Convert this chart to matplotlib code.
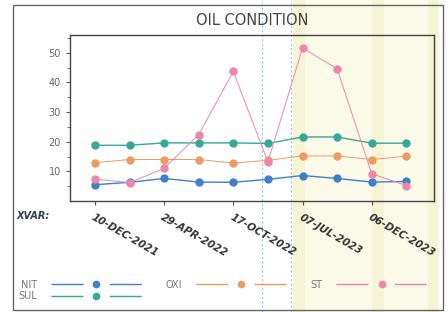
import matplotlib.pyplot as plt
from matplotlib.lines import Line2D
from matplotlib.patches import Rectangle

# sample points (equally spaced on the x axis)
points = list(range(10))
tick_pos = [0, 2, 4, 6, 8]
tick_labels = ['10-DEC-2021', '29-APR-2022', '17-OCT-2022', '07-JUL-2023', '06-DEC-2023']

nit = [5.5, 6.3, 7.6, 6.4, 6.3, 7.3, 8.6, 7.6, 6.4, 6.6]
sul = [18.8, 18.8, 19.6, 19.6, 19.6, 19.4, 21.6, 21.6, 19.5, 19.5]
oxi = [12.9, 14.0, 14.0, 14.0, 12.8, 13.7, 15.2, 15.2, 14.0, 15.1]
st = [7.4, 6.2, 11.0, 22.4, 43.7, 13.2, 51.6, 44.6, 9.2, 5.2]

names = ['NIT', 'SUL', 'OXI', 'ST']
colors = ['#3f7fcc', '#35a898', '#ee9a62', '#ee86a8']

fig = plt.figure(figsize=(4.48, 3.12), dpi=100)

# scan tint on the right side and the outer frame
W, H = 448, 312
def fx(px):
    return px / W
def fy(py):
    return 1 - py / H

fig.patches.append(Rectangle((fx(293), 0), fx(147), 1, transform=fig.transFigure,
                             facecolor='#fbfae8', edgecolor='none', zorder=-3))
for x0, w in [(293, 12), (372, 12), (428, 10)]:
    fig.patches.append(Rectangle((fx(x0), 0), fx(w), 1, transform=fig.transFigure,
                                 facecolor='#f1efc4', edgecolor='none', alpha=0.5, zorder=-2))
for x0 in [262, 291]:
    fig.lines.append(Line2D([fx(x0), fx(x0)], [0, 1], transform=fig.transFigure,
                            color='#9cc0e8', lw=0.8, ls=(0, (2, 2)), zorder=-1))
fig.patches.append(Rectangle((fx(13), fy(310)), fx(430), fy(5) - fy(310), transform=fig.transFigure,
                             facecolor='none', edgecolor='#666666', lw=1.0))

ax = fig.add_axes([fx(70), fy(201), fx(364), fy(35) - fy(201)])
ax.patch.set_alpha(0)

for name, vals, c in zip(names, [nit, sul, oxi, st], colors):
    lw = 1.0 if name in ('NIT', 'SUL') else 0.7
    ax.plot(points, vals, color=c, lw=lw, marker='o', markersize=5, label=name)

ax.set_xlim(-0.72, 9.8)
ax.set_ylim(0, 56)
ax.set_yticks([10, 20, 30, 40, 50])
ax.set_yticks([5, 15, 25, 35, 45, 55], minor=True)
ax.set_xticks(tick_pos)
ax.set_xticklabels(tick_labels, rotation=-30, ha='left', va='top', rotation_mode='anchor',
                   fontsize=7.5, fontweight='bold', style='italic', color='#333333')
ax.tick_params(axis='y', labelsize=7, labelcolor='#666666', color='#555555', length=3)
ax.tick_params(axis='y', which='minor', length=2, color='#555555')
ax.tick_params(axis='x', length=3, color='#555555', pad=5)
for s in ax.spines.values():
    s.set_color('#444444')
    s.set_linewidth(1.0)

ax.set_title('OIL CONDITION', fontsize=10.5, color='#444444', pad=7)

fig.text(fx(17), fy(216), 'XVAR:', fontsize=7, fontweight='bold', style='italic',
         color='#2e3f55', va='center')

handles = [Line2D([], [], color=c, lw=1.0, ls=(0, (23, 19)), marker='o', markersize=4.5)
           for c in colors]
leg = fig.legend(handles, names, ncol=3, loc='upper left', bbox_to_anchor=(fx(12), fy(273)),
                 frameon=False, markerfirst=False, handlelength=9.3, fontsize=7,
                 labelspacing=0.15, columnspacing=2.5, handletextpad=1.4, borderpad=0.2)
for t in leg.get_texts():
    t.set_color('#777777')

fig.savefig('out.png', dpi=100)
